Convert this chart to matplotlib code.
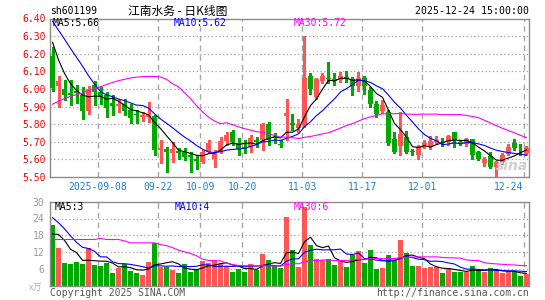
import numpy as np
import pandas as pd
import matplotlib
matplotlib.use('Agg')
import matplotlib.pyplot as plt
from matplotlib.transforms import blended_transform_factory

# ---------------- data ----------------
opens = [6.187, 6.017, 6.002, 5.975, 5.990, 5.964, 5.875, 6.021, 5.983, 5.964,
         5.923, 5.902, 5.917, 5.879, 5.855, 5.839, 5.839, 5.846, 5.653, 5.657,
         5.634, 5.647, 5.644, 5.625, 5.600, 5.587, 5.644, 5.602, 5.644, 5.706,
         5.757, 5.695, 5.668, 5.672, 5.710, 5.710, 5.799, 5.729, 5.685, 5.846,
         5.807, 5.779, 5.794, 6.074, 5.955, 6.046, 6.063, 6.059, 6.050, 6.068,
         6.055, 6.017, 6.063, 5.993, 5.917, 5.873, 5.870, 5.713, 5.675, 5.728,
         5.645, 5.627, 5.680, 5.671, 5.700, 5.700, 5.700, 5.753, 5.700, 5.690,
         5.713, 5.642, 5.580, 5.620, 5.555, 5.586, 5.633, 5.693, 5.650, 5.635]
highs = [6.240, 6.073, 6.050, 6.050, 6.020, 6.012, 6.017, 6.044, 6.012, 5.983,
         5.968, 5.942, 5.945, 5.917, 5.879, 5.870, 5.928, 5.852, 5.710, 5.668,
         5.700, 5.663, 5.663, 5.644, 5.625, 5.653, 5.710, 5.653, 5.729, 5.757,
         5.767, 5.719, 5.710, 5.738, 5.729, 5.805, 5.814, 5.748, 5.709, 5.945,
         5.856, 5.828, 6.302, 6.093, 6.063, 6.088, 6.154, 6.088, 6.097, 6.100,
         6.068, 6.097, 6.072, 6.012, 5.930, 5.936, 5.879, 5.756, 5.870, 5.760,
         5.660, 5.680, 5.710, 5.733, 5.730, 5.720, 5.740, 5.758, 5.710, 5.720,
         5.718, 5.650, 5.615, 5.642, 5.590, 5.635, 5.685, 5.714, 5.690, 5.674]
lows = [5.990, 5.900, 5.936, 5.910, 5.920, 5.828, 5.856, 5.908, 5.917, 5.841,
        5.851, 5.870, 5.851, 5.805, 5.809, 5.817, 5.814, 5.624, 5.581, 5.530,
        5.587, 5.600, 5.596, 5.530, 5.543, 5.577, 5.634, 5.558, 5.634, 5.681,
        5.681, 5.625, 5.634, 5.644, 5.672, 5.653, 5.681, 5.691, 5.671, 5.710,
        5.765, 5.756, 5.784, 5.974, 5.945, 6.031, 6.031, 6.020, 6.040, 6.040,
        5.964, 5.987, 5.974, 5.898, 5.841, 5.866, 5.684, 5.637, 5.627, 5.639,
        5.625, 5.600, 5.665, 5.661, 5.690, 5.675, 5.680, 5.670, 5.680, 5.675,
        5.600, 5.595, 5.565, 5.550, 5.495, 5.572, 5.623, 5.652, 5.623, 5.623]
closes = [6.008, 6.045, 5.964, 5.965, 5.975, 5.875, 5.998, 5.983, 5.960, 5.889,
          5.904, 5.915, 5.873, 5.836, 5.850, 5.851, 5.858, 5.653, 5.666, 5.644,
          5.657, 5.638, 5.615, 5.615, 5.592, 5.644, 5.695, 5.628, 5.704, 5.738,
          5.697, 5.657, 5.657, 5.719, 5.700, 5.799, 5.710, 5.719, 5.680, 5.865,
          5.798, 5.803, 6.063, 5.998, 6.055, 6.074, 6.055, 6.046, 6.074, 6.055,
          6.017, 6.063, 6.017, 5.917, 5.855, 5.911, 5.694, 5.642, 5.743, 5.642,
          5.640, 5.671, 5.695, 5.703, 5.710, 5.695, 5.730, 5.712, 5.690, 5.713,
          5.627, 5.605, 5.605, 5.555, 5.585, 5.625, 5.670, 5.665, 5.645, 5.663]
volumes = [21.6, 13.5, 8.0, 7.7, 8.4, 7.7, 13.5, 7.3, 7.0, 8.2,
           4.5, 6.5, 7.7, 5.3, 4.5, 3.75, 8.4, 15.3, 6.8, 6.8,
           5.5, 4.5, 7.9, 4.8, 5.8, 8.7, 8.2, 9.2, 7.6, 7.2,
           4.9, 6.0, 4.9, 7.6, 5.6, 11.4, 9.3, 7.2, 6.3, 24.5,
           12.7, 6.7, 28.2, 14.5, 9.5, 9.1, 9.5, 7.3, 8.9, 6.7,
           10.9, 12.3, 8.0, 12.7, 6.0, 6.25, 10.9, 8.9, 16.3, 11.6,
           7.0, 7.0, 6.4, 6.7, 6.7, 4.5, 6.25, 4.9, 4.9, 4.9,
           7.0, 5.6, 4.9, 6.25, 5.2, 4.5, 4.9, 4.9, 3.5, 4.1]

# moving-average values before a full window is available
price_ma5_lead = [6.265, 6.165, 6.088, 6.030]
price_ma10_lead = [6.385, 6.333, 6.283, 6.230, 6.180, 6.130, 6.075, 6.028, 5.985]
price_ma30_lead = [5.913, 5.930, 5.945, 5.958, 5.967, 5.977, 5.990, 6.000, 6.012, 6.025,
                   6.037, 6.047, 6.055, 6.062, 6.067, 6.070, 6.071, 6.071, 6.068, 6.055,
                   6.030, 6.012, 5.978, 5.945, 5.905, 5.870, 5.840, 5.818, 5.803]
vol_ma5_lead = [18.5, 18.3, 16.2, 13.0]
vol_ma10_lead = [24.3, 22.5, 20.3, 17.8, 15.5, 13.7, 13.3, 12.3, 10.3]
vol_ma30_lead = [16.5, 16.5, 16.5, 16.5, 16.5, 16.5, 16.5, 16.5, 16.9, 16.5,
                 16.5, 16.5, 16.0, 15.3, 15.3, 15.3, 15.3, 15.3, 14.7, 14.3,
                 13.6, 12.7, 12.1, 11.5, 10.7, 9.5, 9.0, 8.9, 8.9]

tick_idx = [8, 18, 25, 32, 42, 52, 62, 79]
tick_labels = ['2025-09-08', '09-22', '10-09', '10-20', '11-03', '11-17', '12-01', '12-24']
price_ticks = [5.50, 5.60, 5.70, 5.80, 5.90, 6.00, 6.10, 6.20, 6.30, 6.40]
vol_ticks = [6, 12, 18, 24, 30]

title_code = 'sh601199'
title_name = '江南水务 - 日K线图'
title_time = '2025-12-24 15:00:00'
price_ma_text = ['MA5:5.66', 'MA10:5.62', 'MA30:5.72']
vol_ma_text = ['MA5:3', 'MA10:4', 'MA30:6']

# ---------------- styling ----------------
UP = '#FF5555'
DOWN = '#00A800'
MA_COLORS = ['#000000', '#0000FF', '#FF00FF']
BORDER = '#8c8c8c'
MONO = 'DejaVu Sans Mono'

W, H = 545, 300
fig = plt.figure(figsize=(W / 100, H / 100), dpi=100)
fig.patch.set_facecolor('white')


def px_axes(l, t, r, b):
    return fig.add_axes([l / W, 1 - b / H, (r - l) / W, (b - t) / H])


def ftext(x, y, s, **kw):
    return fig.text(x / W, 1 - y / H, s, **kw)


def ma(values, n, lead):
    m = pd.Series(values).rolling(n).mean().to_numpy()
    m[:n - 1] = lead
    return m


o = np.array(opens); h = np.array(highs); l = np.array(lows); c = np.array(closes)
v = np.array(volumes)
n = len(c)
x = np.arange(n)
colors = np.where(c >= o, UP, DOWN)

axp = px_axes(50, 18.5, 529, 177)
axv = px_axes(50, 201.7, 529, 285.7)

for ax in (axp, axv):
    ax.set_xlim(-0.42, n - 1 + 0.42)
    for s in ax.spines.values():
        s.set_color(BORDER)
        s.set_linewidth(1.0)
    ax.tick_params(length=0)
    ax.set_xticks([])
    for i in tick_idx:
        ax.axvline(i - 0.4, color='#a8a8a8', lw=1.0, ls=(0, (4, 3)), zorder=0)

# ---------------- price panel ----------------
axp.set_ylim(5.50, 6.40)
for p in price_ticks[1:-1]:
    axp.axhline(p, color='#a0a0a0', lw=0.9, ls=(0, (1, 2)), zorder=0)
axp.vlines(x, l, h, colors=colors, lw=0.8, zorder=2, antialiased=False)
body_bottom = np.minimum(o, c)
body_h = np.maximum(np.abs(c - o), 0.004)
axp.bar(x, body_h, bottom=body_bottom, width=0.8, color=colors, linewidth=0, zorder=3)

for (nn, lead), col in zip([(5, price_ma5_lead), (10, price_ma10_lead), (30, price_ma30_lead)], MA_COLORS):
    axp.plot(x, ma(c, nn, lead), color=col, lw=0.8, zorder=4)

axp.set_yticks(price_ticks)
axp.set_yticklabels([f'{p:.2f}' for p in price_ticks], color='#FF0000',
                    fontfamily=MONO, fontsize=7)
axp.tick_params(axis='y', pad=3)

tr = blended_transform_factory(axp.transData, axp.transAxes)
ylab = (177 - 186.7) / (177 - 18.5)
for i, lab in zip(tick_idx, tick_labels):
    if i == n - 1:
        axp.text((523 - 52.5) / 6, ylab, lab, transform=tr, ha='right', va='center',
                 color='#1a80d0', fontfamily=MONO, fontsize=7)
    else:
        axp.text(i - 0.4, ylab, lab, transform=tr, ha='center', va='center',
                 color='#1a80d0', fontfamily=MONO, fontsize=7)

ftext(512, 166, 'sina', ha='center', va='center', color='#d0d0d0', fontsize=10,
      fontstyle='italic', fontweight='bold', zorder=1)

# ---------------- volume panel ----------------
axv.set_ylim(0, 30)
for t in vol_ticks[:-1]:
    axv.axhline(t, color='#a0a0a0', lw=0.9, ls=(0, (1, 2)), zorder=0)
axv.bar(x, v, width=0.8, color=colors, linewidth=0, zorder=2)
for (nn, lead), col in zip([(5, vol_ma5_lead), (10, vol_ma10_lead), (30, vol_ma30_lead)], MA_COLORS):
    axv.plot(x, ma(v, nn, lead), color=col, lw=0.8, zorder=4)
axv.set_yticks(vol_ticks)
axv.set_yticklabels([str(t) for t in vol_ticks], color='#999999', fontfamily=MONO, fontsize=7)
axv.tick_params(axis='y', pad=4)
ftext(36, 288, 'x万', ha='center', va='center', color='#b0b0b0', fontsize=6.5,
      family=['Noto Sans CJK SC', 'DejaVu Sans'])

# ---------------- texts ----------------
ftext(50, 11, title_code, ha='left', va='center', fontfamily=MONO, fontsize=7, color='black')
ftext(177.5, 11, title_name, ha='center', va='center', fontsize=8.5, color='black',
      family=['Noto Sans CJK SC', 'DejaVu Sans'])
ftext(529, 11, title_time, ha='right', va='center', fontfamily=MONO, fontsize=7.1, color='black')

for xpx, s, col in zip([53, 174, 294], price_ma_text, MA_COLORS):
    ftext(xpx, 23.5, s, ha='left', va='center', fontfamily=MONO, fontsize=7, color=col)
for xpx, s, col in zip([55, 175, 294], vol_ma_text, MA_COLORS):
    ftext(xpx, 206.5, s, ha='left', va='center', fontfamily=MONO, fontsize=7, color=col)

ftext(50, 292.5, 'Copyright 2025 SINA.COM', ha='left', va='center', fontfamily=MONO,
      fontsize=7, color='#555555')
ftext(529, 292.5, 'http://finance.sina.com.cn', ha='right', va='center', fontfamily=MONO,
      fontsize=7, color='#555555')

fig.savefig('out.png', dpi=100, facecolor='white')
